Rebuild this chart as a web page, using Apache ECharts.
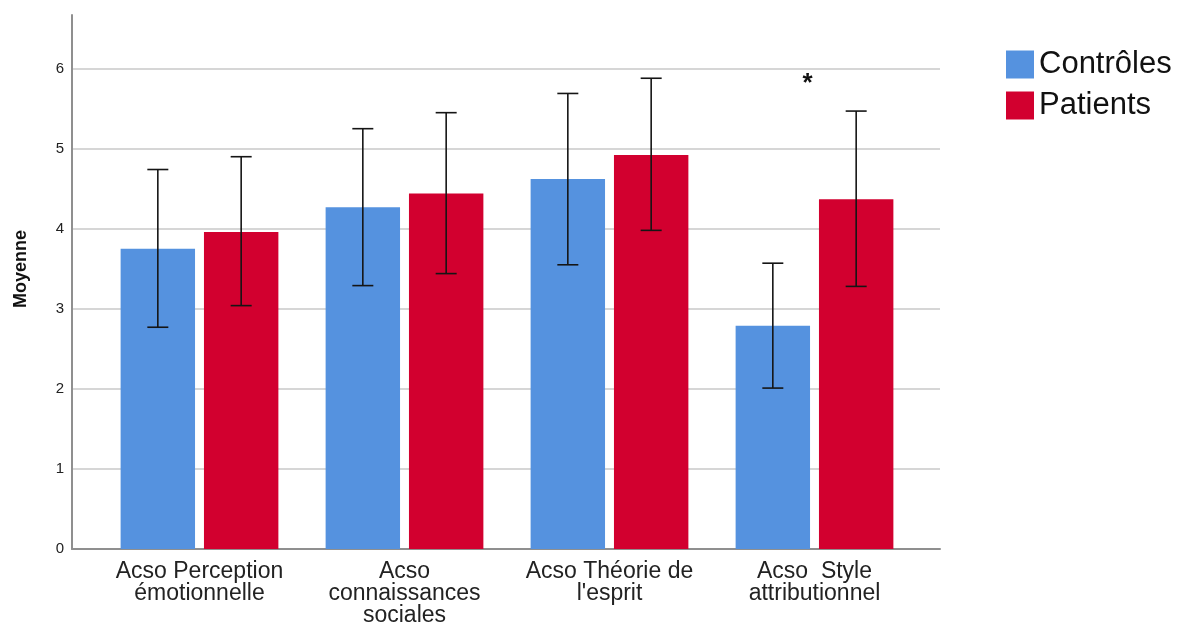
<!DOCTYPE html>
<html>
<head>
<meta charset="utf-8">
<script src="https://cdn.jsdelivr.net/npm/echarts@6/dist/echarts.min.js"></script>
<style>html,body{margin:0;padding:0;background:#fff}#c{width:1183px;height:630px}</style>
</head>
<body>
<div id="c"></div>
<script>
// ---- data ----
const categories = ['Acso Perception\némotionnelle', 'Acso\nconnaissances\nsociales', 'Acso Théorie de\nl\'esprit', 'Acso  Style\nattributionnel'];
const seriesNames = ['Contrôles', 'Patients'];
const controlsMean = [3.75, 4.27, 4.62, 2.79];
const controlsLow  = [2.77, 3.29, 3.55, 2.01];
const controlsHigh = [4.74, 5.25, 5.69, 3.57];
const patientsMean = [3.96, 4.44, 4.92, 4.37];
const patientsLow  = [3.04, 3.44, 3.98, 3.28];
const patientsHigh = [4.90, 5.45, 5.88, 5.47];
const yTicks = [0, 1, 2, 3, 4, 5, 6];
const annotations = [[3, 5.88, '*']];

const FONT = '"Liberation Sans", Arial, sans-serif';
const BLUE = '#5592df', RED = '#d2002f';
const BAR_W = 0.363, BAR_GAP = 0.12;
const Y_MAX = 6.67;

function errData(lo, hi) { return lo.map((v, i) => [i, v, hi[i]]); }
function errRender(side) {
  return function (params, api) {
    const cat = api.value(0), lo = api.value(1), hi = api.value(2);
    const band = api.size([1, 0])[0];
    const bw = band * BAR_W, gap = bw * BAR_GAP;
    const off = side * (bw + gap) / 2;
    const pH = api.coord([cat, hi]), pL = api.coord([cat, lo]);
    const x = pH[0] + off, cap = 10.5;
    const st = { stroke: '#151515', lineWidth: 1.6 };
    return { type: 'group', children: [
      { type: 'line', shape: { x1: x, y1: pH[1], x2: x, y2: pL[1] }, style: st },
      { type: 'line', shape: { x1: x - cap, y1: pH[1], x2: x + cap, y2: pH[1] }, style: st },
      { type: 'line', shape: { x1: x - cap, y1: pL[1], x2: x + cap, y2: pL[1] }, style: st }
    ]};
  };
}

const chart = echarts.init(document.getElementById('c'), null, { renderer: 'canvas' });
chart.setOption({
  backgroundColor: '#fff',
  animation: false,
  textStyle: { fontFamily: FONT },
  legend: {
    data: seriesNames, orient: 'vertical', left: 1006, top: 49,
    itemWidth: 28, itemHeight: 28, itemGap: 10, padding: 0, icon: 'rect',
    textStyle: { fontSize: 31, color: '#111', fontFamily: FONT, lineHeight: 28 }
  },
  grid: [
    { left: 97, right: 266, top: 15, bottom: 81 },
    { left: 72, right: 243, top: 15, bottom: 81 }
  ],
  xAxis: [
    { type: 'category', gridIndex: 0, data: categories,
      axisLine: { show: false }, axisTick: { show: false },
      axisLabel: { fontSize: 23, lineHeight: 22, color: '#222', margin: 12, interval: 0, fontFamily: FONT } },
    { type: 'value', gridIndex: 1, min: 0, max: 1,
      axisLine: { show: true, lineStyle: { color: '#8f8f8f', width: 2 } },
      axisTick: { show: false }, axisLabel: { show: false }, splitLine: { show: false } }
  ],
  yAxis: [
    { type: 'value', gridIndex: 0, min: 0, max: Y_MAX, show: false },
    { type: 'value', gridIndex: 1, min: yTicks[0], max: Y_MAX, interval: 1,
      name: 'Moyenne', nameLocation: 'middle', nameGap: 42,
      nameTextStyle: { fontSize: 18, fontWeight: 'bold', color: '#111', fontFamily: FONT, padding: [0, 0, 0, 26] },
      axisLine: { show: true, lineStyle: { color: '#8f8f8f', width: 2 } },
      axisTick: { show: false },
      axisLabel: { fontSize: 15, color: '#222', margin: 8, showMaxLabel: false, padding: [6, 0, 0, 0], fontFamily: FONT,
        formatter: v => (yTicks.indexOf(v) >= 0 ? String(v) : '') },
      splitLine: { show: true, showMaxLine: false, lineStyle: { color: '#c8c8c8', width: 1.5 } } }
  ],
  series: [
    { name: seriesNames[0], type: 'bar', xAxisIndex: 0, yAxisIndex: 0, data: controlsMean,
      barWidth: (BAR_W * 100) + '%', barGap: (BAR_GAP * 100) + '%', itemStyle: { color: BLUE } },
    { name: seriesNames[1], type: 'bar', xAxisIndex: 0, yAxisIndex: 0, data: patientsMean,
      barWidth: (BAR_W * 100) + '%', barGap: (BAR_GAP * 100) + '%', itemStyle: { color: RED } },
    { type: 'custom', xAxisIndex: 0, yAxisIndex: 0, z: 5, renderItem: errRender(-1),
      data: errData(controlsLow, controlsHigh), encode: { x: 0, y: [1, 2] } },
    { type: 'custom', xAxisIndex: 0, yAxisIndex: 0, z: 5, renderItem: errRender(1),
      data: errData(patientsLow, patientsHigh), encode: { x: 0, y: [1, 2] } },
    { type: 'custom', xAxisIndex: 0, yAxisIndex: 0, z: 6,
      data: annotations, encode: { x: 0, y: 1 },
      renderItem: function (params, api) {
        const p = api.coord([api.value(0), api.value(1)]);
        return { type: 'text', x: p[0] - 7, y: p[1] + 6,
          style: { text: annotations[params.dataIndex][2], fontSize: 26, fontWeight: 'bold', fill: '#111',
            fontFamily: FONT, align: 'center', verticalAlign: 'middle' } };
      } }
  ]
});
</script>
</body>
</html>
